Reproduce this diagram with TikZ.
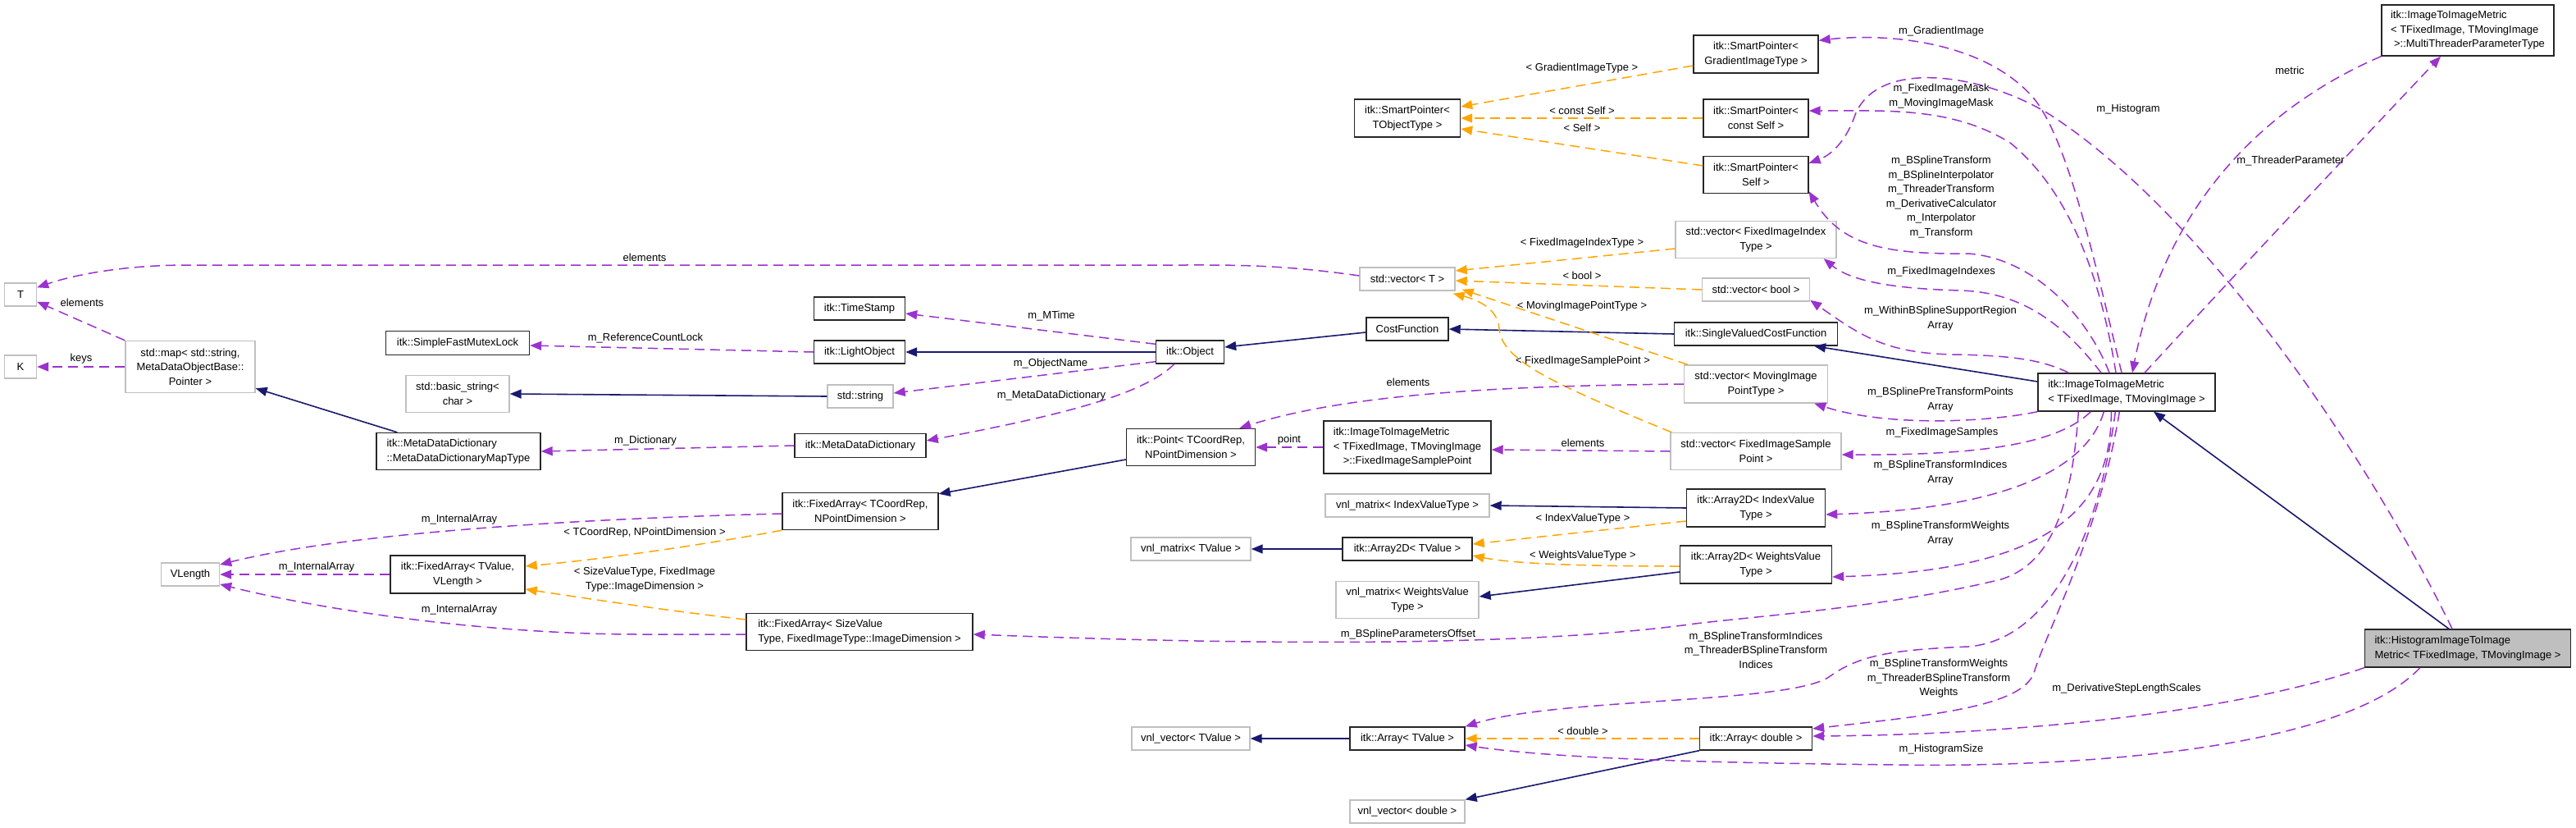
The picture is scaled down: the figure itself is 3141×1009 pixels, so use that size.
\documentclass[tikz,border=0pt]{standalone}
\usepackage{fontspec}
\setmainfont{Liberation Sans}
\usetikzlibrary{arrows.meta}
\definecolor{memc}{HTML}{9A32CD}
\definecolor{tplc}{HTML}{FFA500}
\definecolor{inhc}{HTML}{191970}
\definecolor{gbd}{HTML}{BFBFBF}
\newcommand\dgf{\fontsize{13}{17.5}\selectfont}
\begin{document}
\begin{tikzpicture}[x=1pt,y=-1pt,
 dbox/.style={draw=black!85,fill=white,line width=1.4pt,inner sep=2pt,font=\dgf,align=center},
 gbox/.style={dbox,draw=gbd},
 lbl/.style={font=\dgf,align=center,inner sep=0pt},
 arrtip/.style={-{Triangle[length=14pt,width=11pt]}},
 memb/.style={draw=memc,line width=1.5pt,dash pattern=on 12pt off 7pt,arrtip},
 tmpl/.style={draw=tplc,line width=1.5pt,dash pattern=on 12pt off 7pt,arrtip},
 inhr/.style={draw=inhc,line width=1.6pt,arrtip},
]
\fill[white] (0,0) rectangle (3141,1009);
\useasboundingbox (0,0) rectangle (3141,1009);

% nodes
\node[gbox,minimum width=39pt,minimum height=28pt] (nT) at (25,359) {T};
\node[gbox,minimum width=39pt,minimum height=28pt] (nK) at (25,447) {K};
\node[gbox,minimum width=158pt,minimum height=63pt] (nmap) at (232,447) {std::map< std::string,\\MetaDataObjectBase::\\Pointer >};
\node[dbox,minimum width=175pt,minimum height=29pt] (nmutex) at (558,418) {itk::SimpleFastMutexLock};
\node[gbox,minimum width=126pt,minimum height=45pt] (nbstr) at (558,480) {std::basic\_string<\\char >};
\node[dbox,align=left,minimum width=200pt,minimum height=45pt] (nmdmap) at (559,550) {itk::MetaDataDictionary\\::MetaDataDictionaryMapType};
\node[gbox,minimum width=71pt,minimum height=28pt] (nVL) at (232,700) {VLength};
\node[dbox,minimum width=164pt,minimum height=46pt] (nfaTV) at (558,700) {itk::FixedArray< TValue,\\VLength >};
\node[dbox,align=left,minimum width=276pt,minimum height=45pt] (nfaSV) at (1048,770) {itk::FixedArray< SizeValue\\Type, FixedImageType::ImageDimension >};
\node[dbox,minimum width=111pt,minimum height=28pt] (nts) at (1048,376) {itk::TimeStamp};
\node[dbox,minimum width=111pt,minimum height=28pt] (nlo) at (1048,429) {itk::LightObject};
\node[dbox,minimum width=83pt,minimum height=28pt] (nobj) at (1451,429) {itk::Object};
\node[gbox,minimum width=80pt,minimum height=28pt] (nstr) at (1049,483) {std::string};
\node[dbox,minimum width=160pt,minimum height=29pt] (nmdd) at (1049,543) {itk::MetaDataDictionary};
\node[dbox,minimum width=157pt,minimum height=45pt] (npoint) at (1452,545) {itk::Point< TCoordRep,\\NPointDimension >};
\node[dbox,minimum width=190pt,minimum height=45pt] (nfaCR) at (1049,623) {itk::FixedArray< TCoordRep,\\NPointDimension >};
\node[gbox,minimum width=146pt,minimum height=28pt] (nvmT) at (1452,669) {vnl\_matrix< TValue >};
\node[dbox,minimum width=152pt,minimum height=46pt] (nsmG) at (2141,66) {itk::SmartPointer<\\GradientImageType >};
\node[dbox,minimum width=129pt,minimum height=46pt] (nsmT) at (1716,144) {itk::SmartPointer<\\TObjectType >};
\node[dbox,minimum width=128pt,minimum height=46pt] (nsmC) at (2141,144) {itk::SmartPointer<\\const Self >};
\node[dbox,minimum width=128pt,minimum height=45pt] (nsmS) at (2141,213) {itk::SmartPointer<\\Self >};
\node[gbox,minimum width=196pt,minimum height=45pt] (nvFI) at (2141,292) {std::vector< FixedImageIndex\\Type >};
\node[gbox,minimum width=116pt,minimum height=28pt] (nvT) at (1716,340) {std::vector< T >};
\node[gbox,minimum width=131pt,minimum height=28pt] (nvB) at (2141,353) {std::vector< bool >};
\node[dbox,minimum width=100pt,minimum height=28pt] (ncf) at (1716,401) {CostFunction};
\node[dbox,minimum width=199pt,minimum height=28pt] (nsvcf) at (2141,407) {itk::SingleValuedCostFunction};
\node[gbox,minimum width=175pt,minimum height=46pt] (nvMP) at (2141,468) {std::vector< MovingImage\\PointType >};
\node[gbox,minimum width=208pt,minimum height=45pt] (nvFS) at (2141,550) {std::vector< FixedImageSample\\Point >};
\node[dbox,align=left,minimum width=204pt,minimum height=64pt] (nfsp) at (1716,545) {itk::ImageToImageMetric\\< TFixedImage, TMovingImage\\\hspace*{12pt}>::FixedImageSamplePoint};
\node[gbox,minimum width=200pt,minimum height=28pt] (nvmI) at (1716,616) {vnl\_matrix< IndexValueType >};
\node[dbox,minimum width=169pt,minimum height=46pt] (na2I) at (2141,619) {itk::Array2D< IndexValue\\Type >};
\node[dbox,minimum width=158pt,minimum height=28pt] (na2T) at (1716,669) {itk::Array2D< TValue >};
\node[dbox,minimum width=185pt,minimum height=46pt] (na2W) at (2141,688) {itk::Array2D< WeightsValue\\Type >};
\node[gbox,minimum width=174pt,minimum height=45pt] (nvmW) at (1716,731) {vnl\_matrix< WeightsValue\\Type >};
\node[dbox,align=left,minimum width=216pt,minimum height=46pt] (nmain) at (2593,478) {itk::ImageToImageMetric\\< TFixedImage, TMovingImage >};
\node[gbox,minimum width=144pt,minimum height=28pt] (nvvT) at (1452,900) {vnl\_vector< TValue >};
\node[dbox,minimum width=140pt,minimum height=28pt] (naT) at (1716,900) {itk::Array< TValue >};
\node[dbox,minimum width=137pt,minimum height=28pt] (naD) at (2141,900) {itk::Array< double >};
\node[gbox,minimum width=140pt,minimum height=28pt] (nvvD) at (1716,989) {vnl\_vector< double >};
\node[dbox,fill=gbd,align=left,minimum width=251pt,minimum height=46pt] (nhist) at (3009,790) {itk::HistogramImageToImage\\Metric< TFixedImage, TMovingImage >};
\node[dbox,align=left,minimum width=210pt,minimum height=62pt] (nmtp) at (3009,37) {itk::ImageToImageMetric\\< TFixedImage, TMovingImage\\\hspace*{4pt}>::MultiThreaderParameterType};

% inheritance
\draw[inhr] ([xshift=26pt]nmdmap.north west) -- ([yshift=6pt]nmap.south east);
\draw[inhr] (nstr.west) -- (nbstr.east);
\draw[inhr] (nobj.west) -- (nlo.east);
\draw[inhr] ([yshift=-4pt]ncf.west) -- ([yshift=6pt]nobj.east);
\draw[inhr] (nsvcf.west) -- (ncf.east);
\draw[inhr] ([yshift=13pt]nmain.west) -- ([xshift=71pt]nsvcf.south);
\draw[inhr] ([xshift=-23pt]nhist.north) -- ([xshift=33pt]nmain.south);
\draw[inhr] ([yshift=-15pt]npoint.west) -- ([yshift=-2pt]nfaCR.north east);
\draw[inhr] (na2I.west) -- (nvmI.east);
\draw[inhr] (na2T.west) -- (nvmT.east);
\draw[inhr] ([yshift=-9pt]na2W.west) -- ([yshift=4pt]nvmW.east);
\draw[inhr] (naT.west) -- (nvvT.east);
\draw[inhr] (naD.south west) -- (nvvD.north east);

% template instances
\draw[tmpl] ([yshift=-14pt]nsmG.west) -- ([yshift=14pt]nsmT.east);
\draw[tmpl] (nsmC.west) -- (nsmT.east);
\draw[tmpl] ([yshift=11pt]nsmS.west) -- ([yshift=-13pt]nsmT.east);
\draw[tmpl] ([yshift=-11pt]nvFI.west) -- ([yshift=10pt]nvT.east);
\draw[tmpl] (nvB.west) -- ([yshift=-2pt]nvT.east);
\draw[tmpl] ([xshift=5pt]nvMP.north west) -- ([xshift=8pt,yshift=2pt]nvT.south east);
\draw[tmpl] ([xshift=2pt]nvFS.north west) .. controls (1900,470) and (1830,440) .. (1828,400) .. controls (1826,375) and (1800,365) .. ([xshift=-3pt,yshift=-3pt]nvT.south east);
\draw[tmpl] ([yshift=-16pt]na2I.west) -- ([yshift=6pt]na2T.east);
\draw[tmpl] ([yshift=-2pt]na2W.west) .. controls (1950,690) and (1850,688) .. ([yshift=-8pt]na2T.east);
\draw[tmpl] (nfaCR.south west) .. controls (880,660) and (750,680) .. ([yshift=10pt]nfaTV.east);
\draw[tmpl] ([yshift=15pt]nfaSV.west) .. controls (820,745) and (720,730) .. ([yshift=-18pt]nfaTV.east);
\draw[tmpl] (naD.west) -- (naT.east);

% members
\draw[memb] ([yshift=4pt]nvT.west) .. controls (1560,322) and (1500,323) .. (1440,323) -- (230,323) .. controls (150,323) and (90,335) .. ([yshift=-6pt]nT.north east);
\draw[memb] (nmap.north west) -- ([yshift=6pt]nT.south east);
\draw[memb] (nmap.west) -- (nK.east);
\draw[memb] (nlo.west) -- ([yshift=-3pt]nmutex.east);
\draw[memb] (nmdd.west) -- (nmdmap.east);
\draw[memb] ([yshift=-5pt]nobj.north west) -- ([yshift=-6pt]nts.east);
\draw[memb] ([yshift=3pt]nobj.south west) -- ([yshift=4pt]nstr.east);
\draw[memb] ([xshift=23pt]nobj.south west) .. controls (1395,480) and (1300,505) .. ([yshift=6pt]nmdd.east);
\draw[memb] ([yshift=-3pt]nfaCR.west) .. controls (700,632) and (420,650) .. ([yshift=12pt]nVL.east);
\draw[memb] (nfaTV.west) -- (nVL.east);
\draw[memb] ([yshift=-3pt]nfaSV.west) -- (780,773) .. controls (600,773) and (400,745) .. ([yshift=-12pt]nVL.east);
\draw[memb] (nvMP.west) .. controls (1850,470) and (1650,478) .. ([xshift=-20pt]npoint.north east);
\draw[memb] (nfsp.west) -- (npoint.east);
\draw[memb] (nvFS.west) -- ([yshift=-3pt]nfsp.east);
\draw[memb] ([xshift=50pt]nmain.south west) .. controls (2525,640) and (2490,690) .. (2440,706) .. controls (2300,740) and (2150,750) .. (2067,760) .. controls (1850,790) and (1500,785) .. ([yshift=-3pt]nfaSV.east);
\draw[memb] ([xshift=-6pt]nmain.north) .. controls (2550,300) and (2520,170) .. (2480,120) .. controls (2420,50) and (2300,40) .. ([yshift=-7pt]nsmG.north east);
\draw[memb] ([xshift=-13pt]nmain.north) .. controls (2560,330) and (2520,230) .. (2451,174) .. controls (2380,130) and (2300,135) .. ([yshift=9pt]nsmC.east);
\draw[memb] ([xshift=-21pt]nmain.north) .. controls (2545,385) and (2480,315) .. (2400,309) .. controls (2300,310) and (2245,300) .. ([yshift=3pt]nsmS.south east);
\draw[memb] ([xshift=-31pt]nmain.north) .. controls (2520,400) and (2470,356) .. (2390,354) .. controls (2320,352) and (2260,345) .. ([xshift=-16pt]nvFI.south east);
\draw[memb] ([xshift=38pt]nmain.north west) .. controls (2490,438) and (2450,433) .. (2380,432) .. controls (2300,430) and (2270,410) .. ([yshift=2pt]nvB.south east);
\draw[memb] (nmain.south west) .. controls (2420,515) and (2300,520) .. ([xshift=-17pt]nvMP.south east);
\draw[memb] ([xshift=65pt]nmain.south west) .. controls (2510,540) and (2420,555) .. ([yshift=-4pt]nvFS.east);
\draw[memb] ([xshift=81pt]nmain.south west) .. controls (2545,570) and (2450,620) .. ([yshift=-8pt]na2I.east);
\draw[memb] ([xshift=90pt]nmain.south west) .. controls (2575,620) and (2500,695) .. ([yshift=-15pt]na2W.east);
\draw[memb] ([xshift=95pt]nmain.south west) .. controls (2560,650) and (2500,780) .. (2400,788) .. controls (2300,792) and (2265,800) .. (2230,825) .. controls (2180,858) and (1900,850) .. (naT.north east);
\draw[memb] ([xshift=100pt]nmain.south west) .. controls (2560,650) and (2495,770) .. (2480,820) .. controls (2465,862) and (2350,872) .. ([yshift=12pt]naD.east);
\draw[memb] (nhist.south west) .. controls (2750,860) and (2500,895) .. ([yshift=3pt]naD.east);
\draw[memb] ([xshift=68pt]nhist.south west) .. controls (2850,920) and (2500,935) .. (2314,932) .. controls (2100,930) and (1900,925) .. ([yshift=-8pt]naT.east);
\draw[memb] (nmtp.south west) .. controls (2760,130) and (2640,250) .. ([xshift=7pt]nmain.north);
\draw[memb] ([xshift=22pt]nmain.north) .. controls (2720,340) and (2880,170) .. ([xshift=-33pt]nmtp.south);
\draw[memb] ([xshift=-19pt]nhist.north) .. controls (2900,580) and (2700,270) .. (2500,140) .. controls (2420,90) and (2290,70) .. (2262,140) .. controls (2250,175) and (2230,190) .. ([yshift=-9pt]nsmS.north east);

% labels
\node[lbl] (l01) at (786,314) {elements};
\node[lbl] (l02) at (100,369) {elements};
\node[lbl] (l03) at (99,437) {keys};
\node[lbl] (l04) at (787,412) {m\_ReferenceCountLock};
\node[lbl] (l05) at (787,537) {m\_Dictionary};
\node[lbl] (l06) at (560,633) {m\_InternalArray};
\node[lbl] (l07) at (786,649) {< TCoordRep, NPointDimension >};
\node[lbl] (l08) at (386,691) {m\_InternalArray};
\node[lbl] (l09) at (786,706) {< SizeValueType, FixedImage\\Type::ImageDimension >};
\node[lbl] (l10) at (560,743) {m\_InternalArray};
\node[lbl] (l11) at (1282,385) {m\_MTime};
\node[lbl] (l12) at (1281,443) {m\_ObjectName};
\node[lbl] (l13) at (1282,482) {m\_MetaDataDictionary};
\node[lbl] (l14) at (1572,536) {point};
\node[lbl] (l15) at (1717,466) {elements};
\node[lbl] (l16) at (1930,540) {elements};
\node[lbl] (l17) at (1930,440) {< FixedImageSamplePoint >};
\node[lbl] (l18) at (1929,83) {< GradientImageType >};
\node[lbl] (l19) at (1929,135) {< const Self >};
\node[lbl] (l20) at (1929,156) {< Self >};
\node[lbl] (l21) at (1929,296) {< FixedImageIndexType >};
\node[lbl] (l22) at (1929,336) {< bool >};
\node[lbl] (l23) at (1929,373) {< MovingImagePointType >};
\node[lbl] (l24) at (1930,632) {< IndexValueType >};
\node[lbl] (l25) at (1930,677) {< WeightsValueType >};
\node[lbl] (l26) at (1717,773) {m\_BSplineParametersOffset};
\node[lbl] (l27) at (2141,792) {m\_BSplineTransformIndices\\m\_ThreaderBSplineTransform\\Indices};
\node[lbl] (l28) at (2364,827) {m\_BSplineTransformWeights\\m\_ThreaderBSplineTransform\\Weights};
\node[lbl] (l29) at (2593,839) {m\_DerivativeStepLengthScales};
\node[lbl] (l30) at (1930,891) {< double >};
\node[lbl] (l31) at (2367,913) {m\_HistogramSize};
\node[lbl] (l32) at (2367,38) {m\_GradientImage};
\node[lbl] (l33) at (2367,117) {m\_FixedImageMask\\m\_MovingImageMask};
\node[lbl] (l34) at (2367,240) {m\_BSplineTransform\\m\_BSplineInterpolator\\m\_ThreaderTransform\\m\_DerivativeCalculator\\m\_Interpolator\\m\_Transform};
\node[lbl] (l35) at (2367,331) {m\_FixedImageIndexes};
\node[lbl] (l36) at (2366,388) {m\_WithinBSplineSupportRegion\\Array};
\node[lbl] (l37) at (2366,487) {m\_BSplinePreTransformPoints\\Array};
\node[lbl] (l38) at (2368,527) {m\_FixedImageSamples};
\node[lbl] (l39) at (2366,576) {m\_BSplineTransformIndices\\Array};
\node[lbl] (l40) at (2366,650) {m\_BSplineTransformWeights\\Array};
\node[lbl] (l41) at (2792,86) {metric};
\node[lbl] (l42) at (2595,133) {m\_Histogram};
\node[lbl] (l43) at (2793,196) {m\_ThreaderParameter};
\end{tikzpicture}
\end{document}
